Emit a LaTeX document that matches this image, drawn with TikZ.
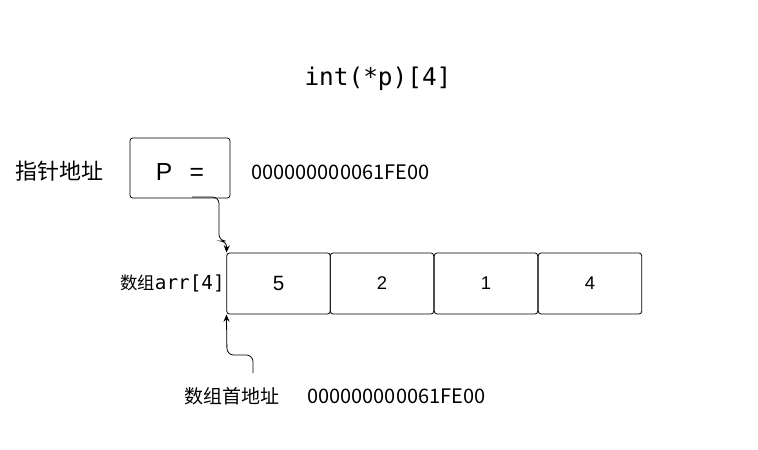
\documentclass[tikz,border=0pt]{standalone}
\usepackage{fontspec}
\setmainfont{Noto Sans CJK SC}
\newfontfamily\monof{DejaVu Sans Mono}
\newfontfamily\arialf{Liberation Sans}
\usetikzlibrary{arrows.meta}
\begin{document}
\begin{tikzpicture}[x=0.75pt,y=-0.75pt,
  cell/.style={draw,rounded corners=2pt,minimum width=77.5pt,minimum height=45.75pt,inner sep=0pt,line width=0.6pt},
  conn/.style={line width=0.6pt,rounded corners=5pt,-{Stealth[length=5.5pt,width=4.5pt]}},
  lbl/.style={inner sep=0pt},
  num/.style={inner sep=0pt,font=\arialf\fontsize{13.8pt}{15pt}\selectfont}]
\useasboundingbox (0,0) rectangle (758,450);
\node[lbl,font=\monof\fontsize{18.3pt}{20pt}\selectfont] (title) at (378,79) {int(*p)[4]};
\node[lbl,font=\fontsize{16.5pt}{18pt}\selectfont] (ptrlbl) at (60,171) {指针地址};
\node[cell,minimum width=75pt,minimum height=45pt] (pbox) at (180,168) {};
\node[lbl,font=\arialf\fontsize{18.5pt}{20pt}\selectfont] (ptxt) at (180,172) {P\hspace{13pt}=};
\node[lbl,font=\fontsize{15pt}{17pt}\selectfont,anchor=west] (addr1) at (251,172) {000000000061FE00};
\node[cell] (c1) at (278.5,283.5) {};
\node[cell] (c2) at (382,283.5) {};
\node[cell] (c3) at (486,283.5) {};
\node[cell] (c4) at (590,283.5) {};
\node[num,font=\arialf\fontsize{15.5pt}{17pt}\selectfont] (v1) at (c1) {5};
\node[num] (v2) at (c2) {2};
\node[num] (v3) at (c3) {1};
\node[num] (v4) at (c4) {4};
\node[lbl,anchor=east,font=\fontsize{13pt}{15pt}\selectfont] (arrlbl) at (225,283) {数组{\monof\fontsize{14.5pt}{15pt}\selectfont arr[4]}};
\node[lbl,font=\fontsize{14.25pt}{16pt}\selectfont] (headlbl) at (232,396) {数组首地址};
\node[lbl,font=\fontsize{15pt}{17pt}\selectfont,anchor=west] (addr2) at (307,396) {000000000061FE00};
\coordinate (s1) at (192,197);
\coordinate (s2) at (253,373);
\draw[conn] (s1) -- (219,197) -- (219,241) -- (227,241) -- (c1.north west);
\draw[conn] (s2) -- (253,355) -- (227,355) -- (c1.south west);
\end{tikzpicture}
\end{document}
